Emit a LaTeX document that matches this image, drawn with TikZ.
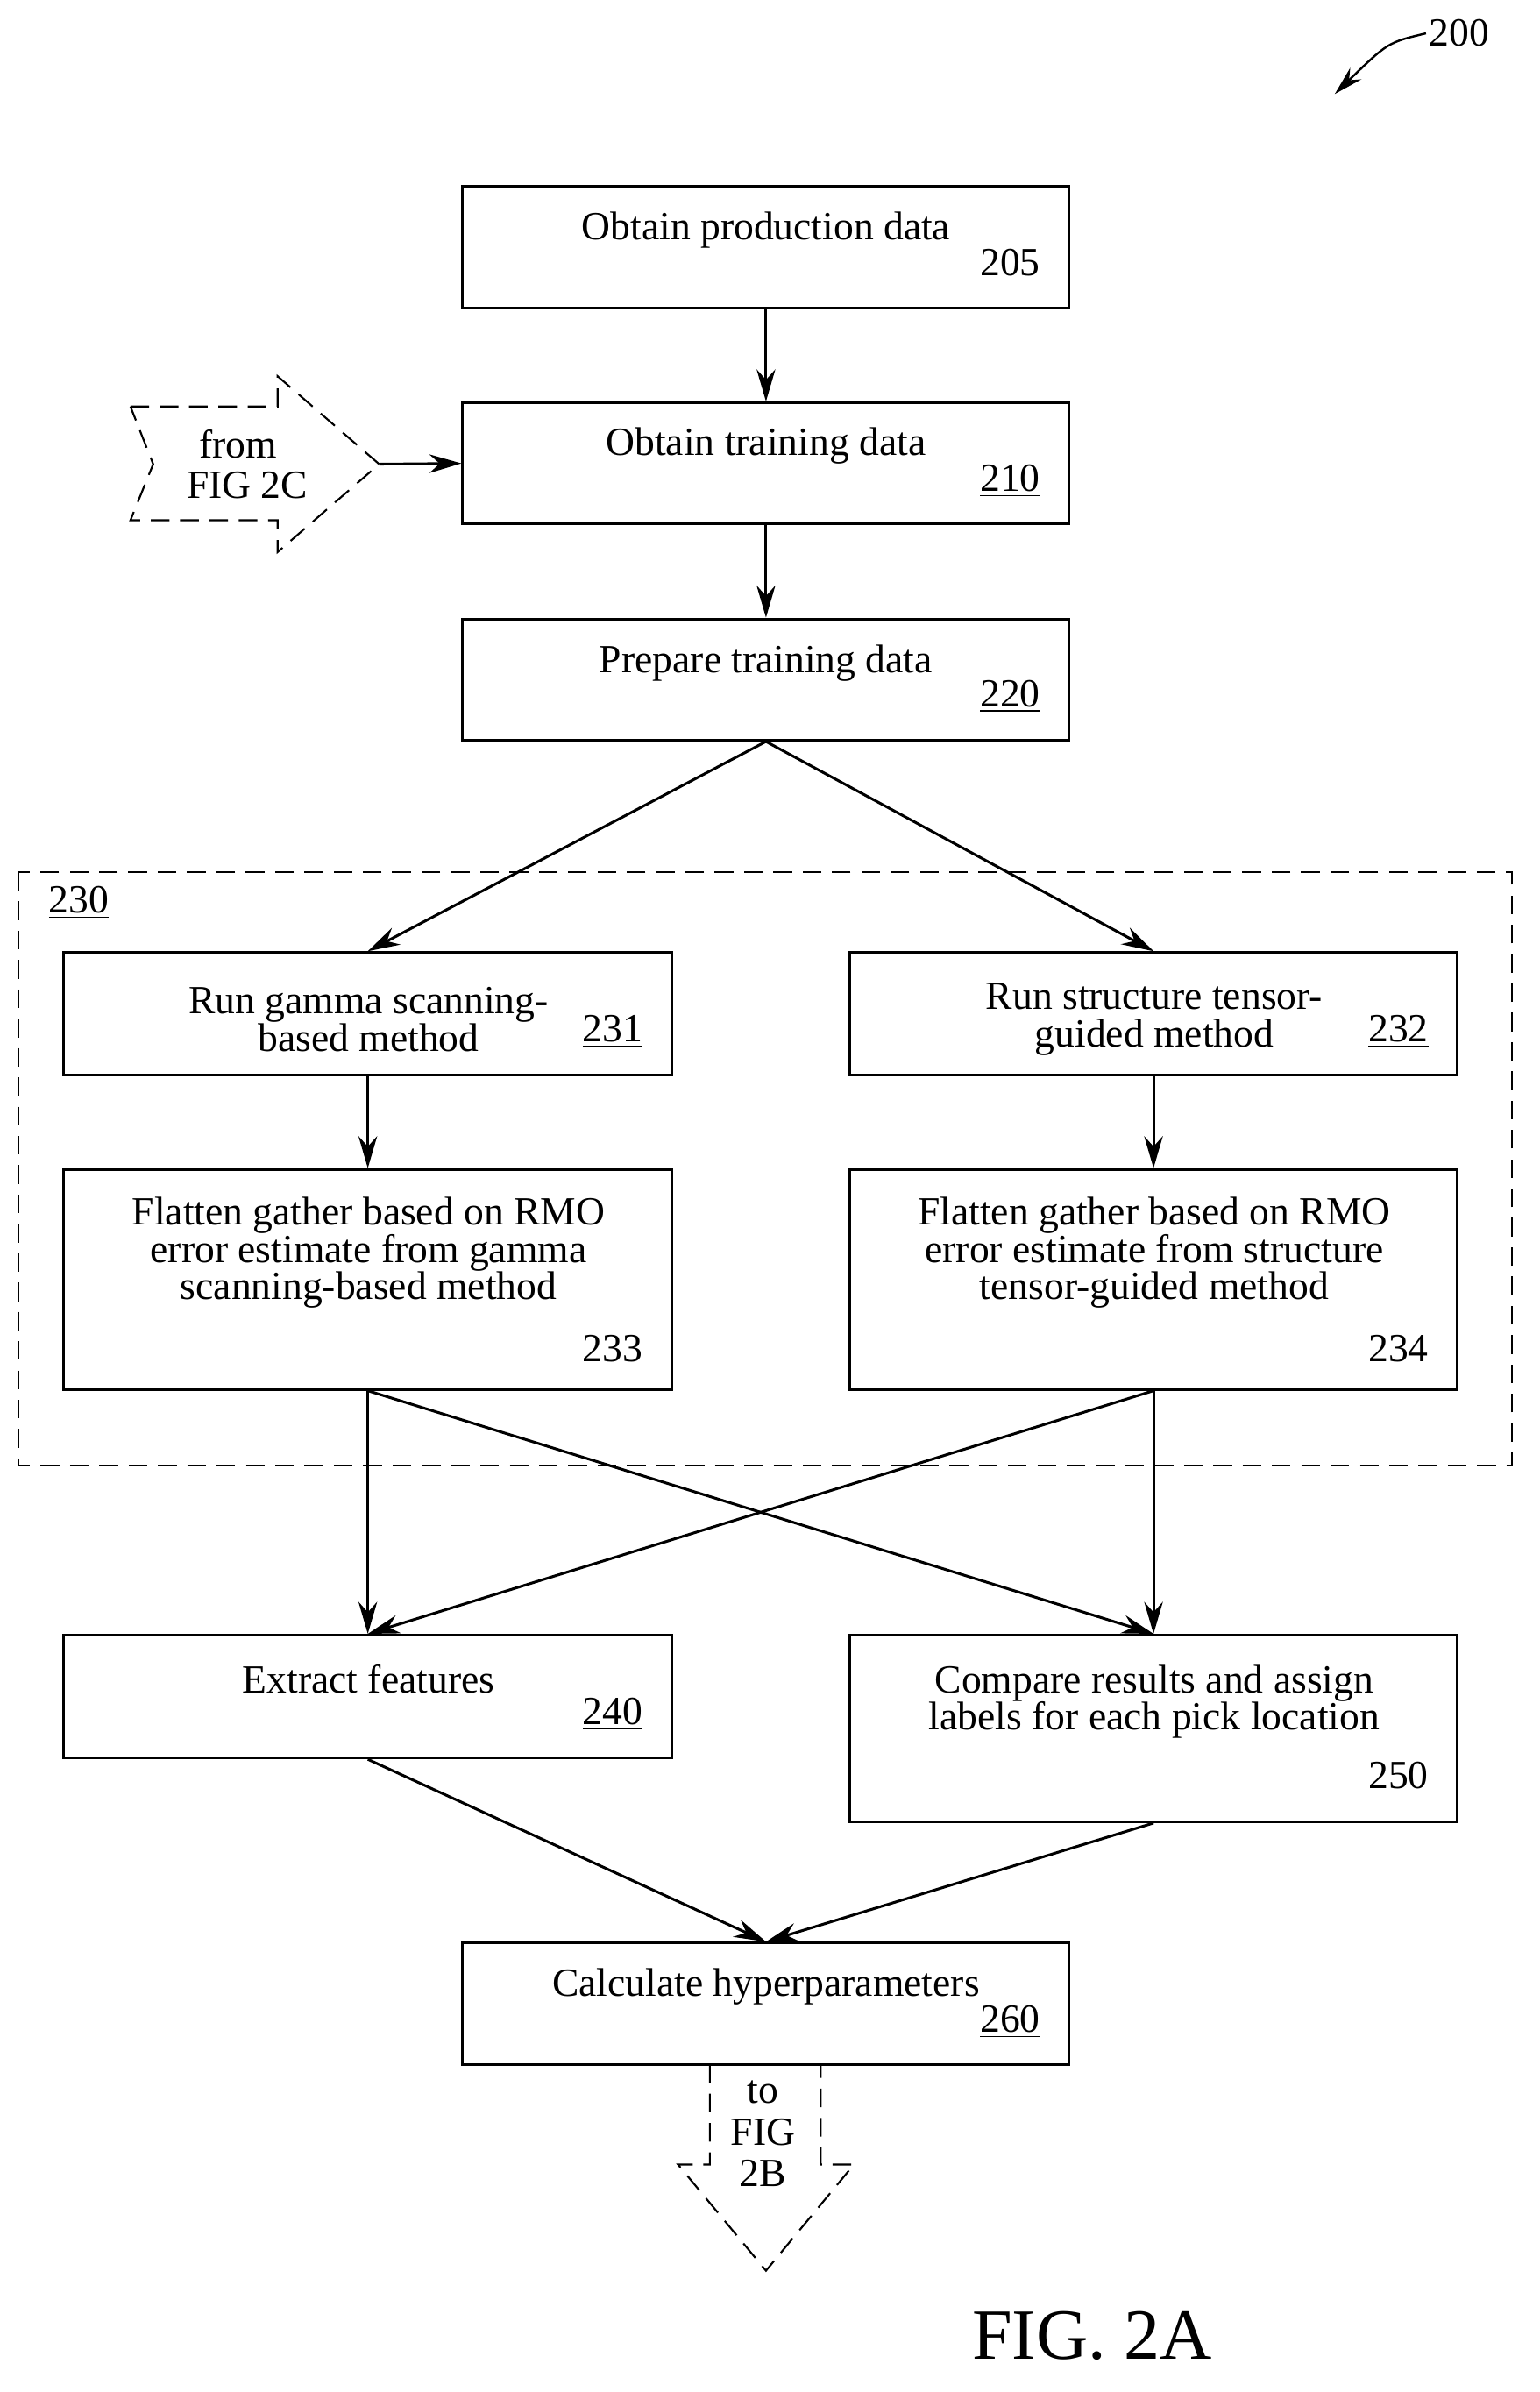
\documentclass[tikz,border=0pt]{standalone}
\usepackage{fontspec}
\setmainfont{Liberation Serif}
\usetikzlibrary{arrows.meta}
\begin{document}
\begin{tikzpicture}[x=0.02cm,y=-0.02cm,
  box/.style={draw,line width=1pt,inner sep=0pt},
  txt/.style={font=\fontsize{15}{14}\selectfont,align=center,inner sep=0pt},
  num/.style={font=\fontsize{15}{15}\selectfont,inner sep=1pt},
  arr/.style={-{Stealth[length=12pt,width=7pt]},line width=1pt},
  dsh/.style={dashed,dash pattern=on 7pt off 4pt,line width=0.7pt}]
\useasboundingbox (0,0) rectangle (1015,1577);
% boxes
\node[box,minimum width=8cm,minimum height=1.6cm] (b205) at (505,163) {};
\node[box,minimum width=8cm,minimum height=1.6cm] (b210) at (505,305.5) {};
\node[box,minimum width=8cm,minimum height=1.6cm] (b220) at (505,448) {};
\node[box,minimum width=8.02cm,minimum height=1.62cm] (b231) at (242.5,668.5) {};
\node[box,minimum width=8.02cm,minimum height=1.62cm] (b232) at (760.5,668.5) {};
\node[box,minimum width=8.02cm,minimum height=2.9cm] (b233) at (242.5,843.5) {};
\node[box,minimum width=8.02cm,minimum height=2.9cm] (b234) at (760.5,843.5) {};
\node[box,minimum width=8.02cm,minimum height=1.62cm] (b240) at (242.5,1118.5) {};
\node[box,minimum width=8.02cm,minimum height=2.46cm] (b250) at (760.5,1139.5) {};
\node[box,minimum width=8cm,minimum height=1.6cm] (b260) at (505,1321) {};
\draw[dsh] (12,575) rectangle (997,966);
% texts
\node[txt] (t205) at (505,152) {Obtain production data};
\node[num] (n205) at (666,175) {\underline{205}};
\node[txt] (t210) at (505,294) {Obtain training data};
\node[num] (n210) at (666,317) {\underline{210}};
\node[txt] (t220) at (505,437) {Prepare training data};
\node[num] (n220) at (666,459) {\underline{220}};
\node[num] (n230) at (52,595) {\underline{230}};
\node[txt] (t231) at (243,672) {Run gamma scanning-\\based method};
\node[num] (n231) at (404,680) {\underline{231}};
\node[txt] (t232) at (761,672) {Run structure tensor-\\guided method};
\node[num] (n232) at (922,680) {\underline{232}};
\node[txt] (t233) at (243,826) {Flatten gather based on RMO\\error estimate from gamma\\scanning-based method};
\node[num] (n233) at (404,891) {\underline{233}};
\node[txt] (t234) at (761,826) {Flatten gather based on RMO\\error estimate from structure\\tensor-guided method};
\node[num] (n234) at (922,891) {\underline{234}};
\node[txt] (t240) at (243,1107) {Extract features};
\node[num] (n240) at (404,1130) {\underline{240}};
\node[txt] (t250) at (761,1122) {Compare results and assign\\labels for each pick location};
\node[num] (n250) at (922,1172) {\underline{250}};
\node[txt] (t260) at (505,1310) {Calculate hyperparameters};
\node[num] (n260) at (666,1333) {\underline{260}};
% connectors
\draw[arr] (b205.south) -- (b210.north);
\draw[arr] (b210.south) -- (b220.north);
\draw[arr] (b220.south) -- (b231.north);
\draw[arr] (b220.south) -- (b232.north);
\draw[arr] (b231.south) -- (b233.north);
\draw[arr] (b232.south) -- (b234.north);
\draw[arr] (b233.south) -- (b240.north);
\draw[arr] (b233.south) -- (b250.north);
\draw[arr] (b234.south) -- (b240.north);
\draw[arr] (b234.south) -- (b250.north);
\draw[arr] (b240.south) -- (b260.north);
\draw[arr] (b250.south) -- (b260.north);
% from arrow
\draw[dsh] (86,268) -- (183,268) -- (183,248) -- (250,306) -- (183,364) -- (183,343) -- (86,343) -- (101,306) -- cycle;
\coordinate (ftip) at (250,306);
\node[txt] (tfrom) at (157,293) {from};
\node[txt] (tfig) at (163,320) {FIG 2C};
\draw[arr] (ftip) -- (b210.west);
% to arrow
\draw[dsh] (468,1361) -- (468,1427) -- (447,1427) -- (505,1497) -- (563,1427) -- (541,1427) -- (541,1361);
\node[txt] (tto) at (503,1379) {to};
\node[txt] (tfig2) at (503,1406) {FIG};
\node[txt] (t2b) at (503,1433) {2B};
% 200
\node[num,font=\fontsize{15}{15}\selectfont] (n200) at (962,22) {200};
\coordinate (a200) at (880,62);
\draw[-{Stealth[length=11pt,width=6pt]},line width=0.8pt] (n200.west) .. controls (915,28) .. (a200);
\node[inner sep=0pt,font=\fontsize{27}{27}\selectfont] (fig) at (720,1540) {FIG. 2A};
\end{tikzpicture}
\end{document}
